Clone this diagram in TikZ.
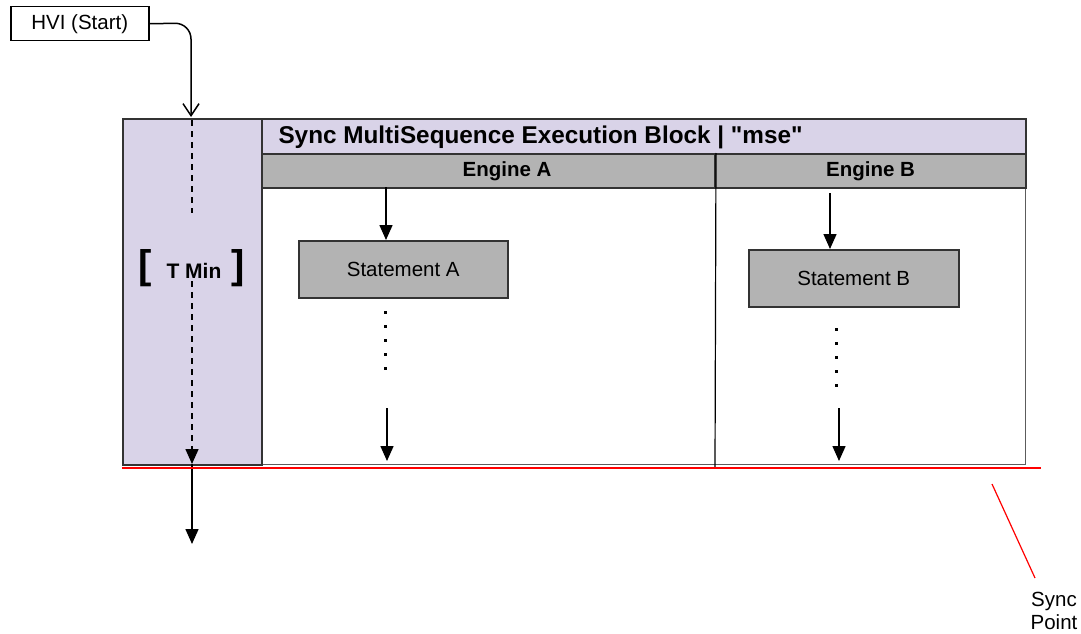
\documentclass[tikz,border=0pt]{standalone}
\usepackage{fontspec}
\setmainfont{Liberation Sans}
\usetikzlibrary{arrows.meta}
\definecolor{lilac}{HTML}{D9D3E8}
\definecolor{hdrgray}{HTML}{B3B3B3}
\definecolor{edge}{HTML}{333333}
\definecolor{syncred}{HTML}{FF0000}
\tikzset{
  txt/.style={font=\fontsize{20.5}{24}\selectfont},
  btxt/.style={font=\bfseries\fontsize{20.5}{24}\selectfont},
  panel/.style={draw=edge, line width=2pt, anchor=north west, inner sep=0pt},
  hdr/.style={panel, fill=hdrgray},
  stmt/.style={draw=edge, line width=1.5pt, fill=hdrgray, anchor=north west, inner sep=0pt, txt},
  flow/.style={line width=1.5pt, -{Triangle[length=15pt,width=13pt]}},
  dots/.style={line width=3pt, dash pattern=on 3pt off 11pt},
  brk/.style={font=\bfseries\fontsize{40}{44}\selectfont, inner sep=0pt},
}
\begin{document}
\begin{tikzpicture}[x=1pt,y=-1pt]
\useasboundingbox (0,0) rectangle (1081,634);
% body
\node[draw=edge!80, line width=1.2pt, anchor=north west, minimum width=764pt, minimum height=277pt, inner sep=0pt] (body) at (261,187) {};
% purple T Min column
\node[panel, fill=lilac, minimum width=139pt, minimum height=346pt] (tcol) at (122,118) {};
% title bar
\node[panel, fill=lilac, minimum width=764pt, minimum height=35pt] (title) at (261,118) {};
\node[anchor=west, font=\bfseries\fontsize{24.3}{28}\selectfont] (titletxt) at (275,137) {Sync MultiSequence Execution Block | \textquotedbl mse\textquotedbl};
% engine headers
\node[hdr, minimum width=453pt, minimum height=34pt] (engA) at (261,153) {};
\node[hdr, minimum width=311pt, minimum height=34pt] (engB) at (714,153) {};
\node[btxt] (engAtxt) at (507,171) {Engine A};
\node[btxt] (engBtxt) at (engB.center) {Engine B};
% divider
\coordinate (divbot) at (715,467);
\draw[line width=1.2pt] (engA.north east) -- (divbot);
% HVI start
\node[draw, line width=1.5pt, anchor=north west, minimum width=138pt, minimum height=34pt, inner sep=0pt, txt] (hvi) at (10,6) {HVI (Start)};
\coordinate (entry) at (191,117);
\draw[line width=1.5pt, rounded corners=16pt, -{Straight Barb[length=12pt,width=16pt,line width=1.5pt]}] (hvi.east) -- (191,23) -- (entry);
% T Min
\node[font=\bfseries\fontsize{21}{24}\selectfont] (tmin) at (194,271) {T Min};
\node[brk] (lbr) at (145,268) {[};
\node[brk] (rbr) at (238,268) {]};
\coordinate (d1a) at (192,120);
\coordinate (d1b) at (192,213);
\coordinate (d2a) at (192,281);
\coordinate (d2b) at (192,464);
\draw[line width=1.5pt, dash pattern=on 6pt off 5pt] (d1a) -- (d1b);
\draw[line width=1.5pt, dash pattern=on 6pt off 5pt, -{Triangle[length=15pt,width=13pt,sep=0pt]}] (d2a) -- (d2b);
\coordinate (out) at (192,544);
\draw[flow] (d2b) -- (out);
% sync line
\coordinate (synL) at (122,468);
\coordinate (synR) at (1041,468);
\draw[syncred, line width=1.5pt] (synL) -- (synR);
\coordinate (lblA) at (992,484);
\coordinate (lblB) at (1035,578);
\draw[syncred, line width=1.2pt] (lblA) -- (lblB);
\node[txt, align=center, inner sep=0pt] (syncpt) at (1054,611) {Sync\\[-1pt]Point};
% Engine A lane
\node[stmt, minimum width=209pt, minimum height=57pt] (stA) at (298,240) {Statement A};
\coordinate (tA1) at (386,187);
\draw[flow] (tA1) -- (stA.north -| tA1);
\coordinate (dA1) at (385,311);
\coordinate (dA2) at (385,370);
\draw[dots] (dA1) -- (dA2);
\coordinate (aA1) at (387,408);
\coordinate (aA2) at (387,461);
\draw[flow] (aA1) -- (aA2);
% Engine B lane
\node[stmt, minimum width=210pt, minimum height=57pt] (stB) at (748,249) {Statement B};
\coordinate (tB1) at (830,193);
\draw[flow] (tB1) -- (stB.north -| tB1);
\coordinate (dB1) at (836,328);
\coordinate (dB2) at (836,387);
\draw[dots] (dB1) -- (dB2);
\coordinate (aB1) at (839,408);
\coordinate (aB2) at (839,461);
\draw[flow] (aB1) -- (aB2);
\end{tikzpicture}
\end{document}
